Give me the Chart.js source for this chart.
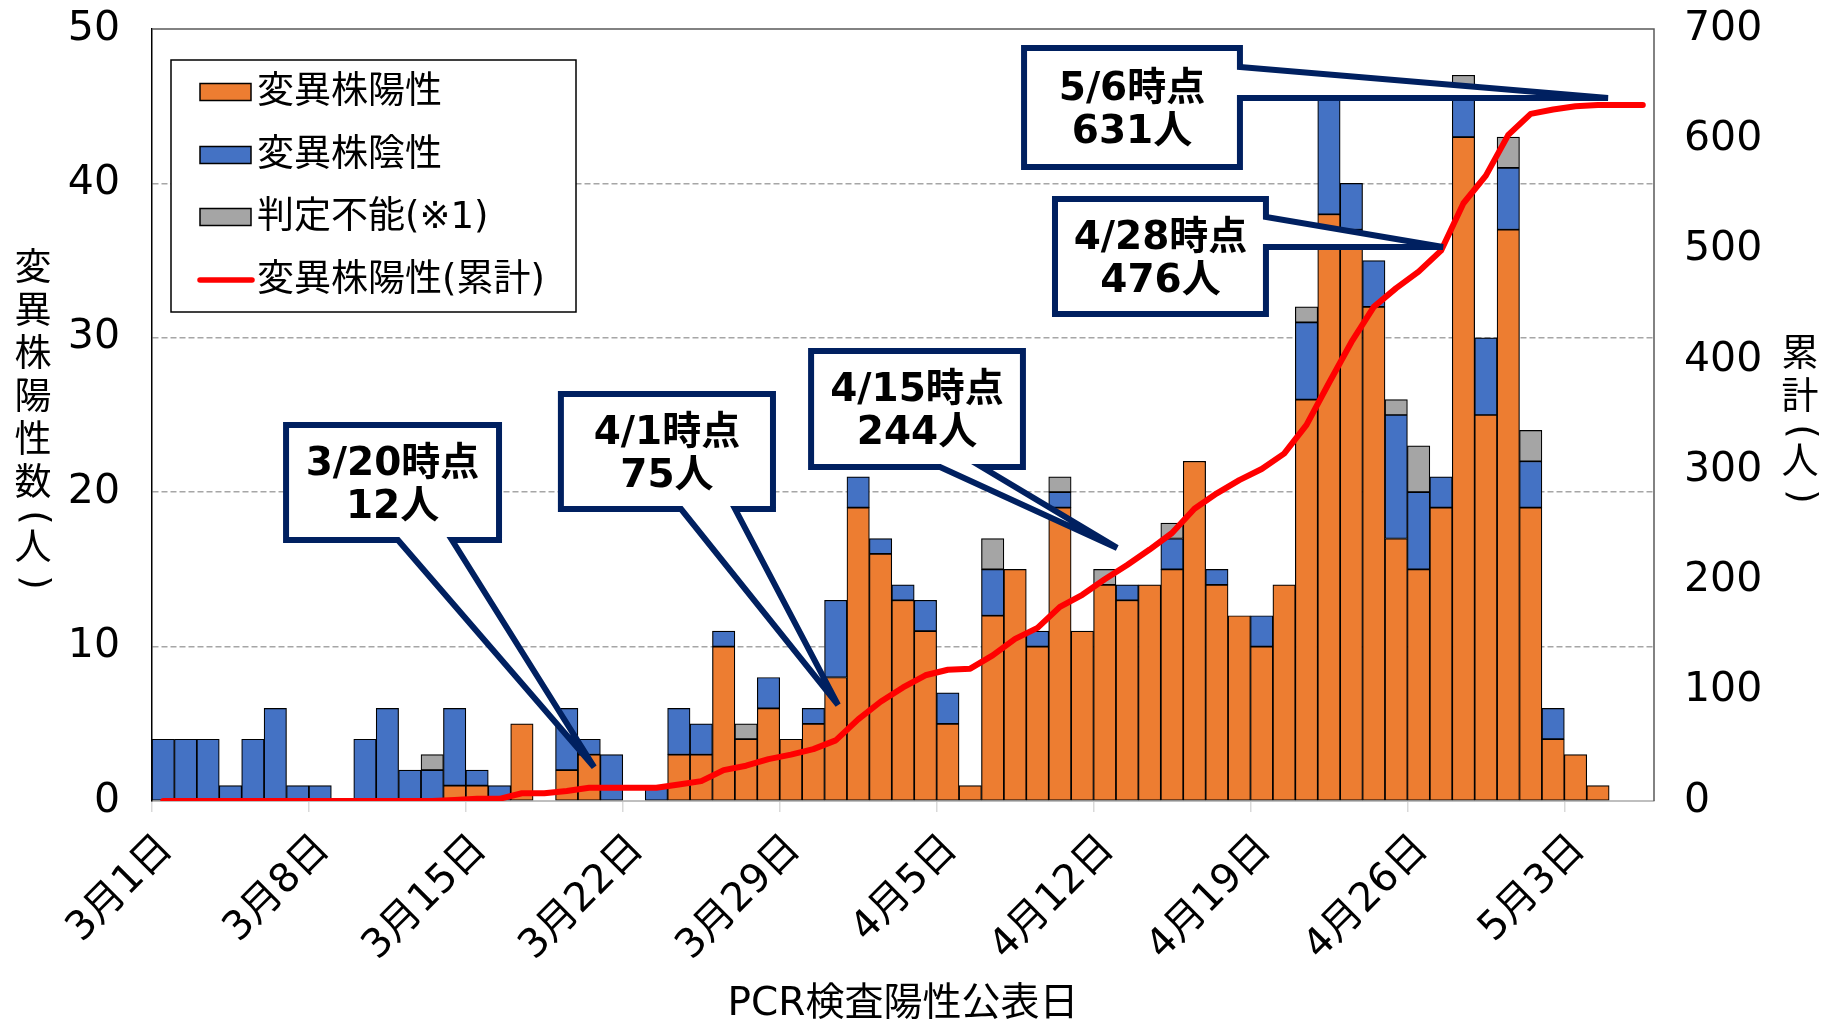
<!DOCTYPE html>
<html><head><meta charset="utf-8">
<script src="https://cdn.jsdelivr.net/npm/chart.js@4.4.1/dist/chart.umd.min.js"></script>
<style>html,body{margin:0;padding:0;background:#fff;}canvas{display:block;}</style>
</head><body>
<canvas id="c" width="1821" height="1020"></canvas>
<script>
// ---- data ----
const dates = ['3月1日','3月2日','3月3日','3月4日','3月5日','3月6日','3月7日','3月8日','3月9日','3月10日',
 '3月11日','3月12日','3月13日','3月14日','3月15日','3月16日','3月17日','3月18日','3月19日','3月20日',
 '3月21日','3月22日','3月23日','3月24日','3月25日','3月26日','3月27日','3月28日','3月29日','3月30日','3月31日',
 '4月1日','4月2日','4月3日','4月4日','4月5日','4月6日','4月7日','4月8日','4月9日','4月10日',
 '4月11日','4月12日','4月13日','4月14日','4月15日','4月16日','4月17日','4月18日','4月19日','4月20日',
 '4月21日','4月22日','4月23日','4月24日','4月25日','4月26日','4月27日','4月28日','4月29日','4月30日',
 '5月1日','5月2日','5月3日','5月4日','5月5日','5月6日'];
const variantPositive = [0,0,0,0,0,0,0,0,0,0, 0,0,0,1,1,0,5,0,2,3, 0,0,0,3,3,10,4,6,4,5,8,
 19,16,13,11,5,1,12,15,10,19, 11,14,13,14,15,22,14,12,10,14, 26,38,37,32,17,15,19,43,25,37,
 19,4,3,1,0,0];
const variantNegative = [4,4,4,1,4,6,1,1,0,4, 6,2,2,5,1,1,0,0,4,1, 3,0,1,3,2,1,0,2,0,1,5,
 2,1,1,2,2,0,3,0,1,1, 0,0,1,0,2,0,1,0,2,0, 5,8,3,3,8,5,2,3,5,4,
 3,2,0,0,0,0];
const undetermined = [0,0,0,0,0,0,0,0,0,0, 0,0,1,0,0,0,0,0,0,0, 0,0,0,0,0,0,1,0,0,0,0,
 0,0,0,0,0,0,2,0,0,1, 0,1,0,0,1,0,0,0,0,0, 1,0,0,0,1,3,0,1,0,2,
 2,0,0,0,0,0];
const cumulativePositive = [0,0,0,0,0,0,0,0,0,0, 0,0,0,1,2,2,7,7,9,12, 12,12,12,15,18,28,32,38,42,47,55,
 74,90,103,114,119,120,132,147,157,176, 187,201,214,228,243,265,279,291,301,315, 341,379,416,448,465,480,499,542,567,604,
 623,627,630,631,631,631];
const leftTicks = {min:0, max:50, step:10};
const rightTicks = {min:0, max:700, step:100};
const weekStep = 7;

const seriesNames = ['変異株陽性','変異株陰性','判定不能(※1)','変異株陽性(累計)'];
const xTitle = 'PCR検査陽性公表日';
const yTitleChars = ['変','異','株','陽','性','数','(','人',')'];
const y2TitleChars = ['累','計','(','人',')'];

// callouts: box [x0,x1,yTop,yBottom] and tip in data units (x = day index, y = left axis)
const callouts = [
  {lines:['3/20時点','12人'],  box:[5.98,15.48,24.35,16.90], side:'bottom', base:[10.97,13.38], tip:[19.72,2.20]},
  {lines:['4/1時点','75人'],   box:[18.24,27.70,26.36,18.91], side:'bottom', base:[23.60,26.01], tip:[30.60,6.22]},
  {lines:['4/15時点','244人'], box:[29.40,38.85,29.15,21.63], side:'bottom', base:[35.15,37.02], tip:[43.05,16.39]},
  {lines:['4/28時点','476人'], box:[40.28,49.69,38.99,31.54], side:'right', base:[37.82,35.88], tip:[57.59,35.88]},
  {lines:['5/6時点','631人'],  box:[38.90,48.53,48.77,41.06], side:'right', base:[47.54,45.53], tip:[64.95,45.53]}
];

const FONT = "'DejaVu Sans','Noto Sans CJK JP',sans-serif";
const COLORS = {pos:'#ED7D31', neg:'#4472C4', und:'#A5A5A5', cum:'#FF0000', navy:'#002060'};

const toXY = arr => arr.map((v,i) => ({x:i+0.5, y: v === 0 ? null : v}));
const toXYLine = arr => arr.map((v,i) => ({x:i+0.5, y:v}));

function drawVertical(ctx, chars, cx, cy, adv, parenAdv) {
  const total = chars.reduce((s,c)=> s + ((c==='('||c===')') ? parenAdv : adv), 0);
  let y = cy - total/2;
  for (const c of chars) {
    const a = (c==='('||c===')') ? parenAdv : adv;
    const mid = y + a/2;
    if (c==='('||c===')') {
      ctx.save(); ctx.translate(cx, mid); ctx.rotate(Math.PI/2); ctx.fillText(c, 0, 0); ctx.restore();
    } else {
      ctx.fillText(c, cx, mid);
    }
    y += a;
  }
}

const extras = {
  id:'extras',
  beforeDatasetsDraw(chart) {
    const {ctx, chartArea:ca} = chart;
    ctx.save();
    ctx.strokeStyle = '#595959'; ctx.lineWidth = 1.5;
    ctx.beginPath(); ctx.moveTo(ca.left, ca.top); ctx.lineTo(ca.right, ca.top); ctx.lineTo(ca.right, ca.bottom); ctx.stroke();
    ctx.restore();
  },
  afterDatasetsDraw(chart) {
    const {ctx, chartArea:ca, scales} = chart;
    const xs = scales.x, ys = scales.y;
    ctx.save();
    // legend
    const lx = ca.left + 19, ly = ca.top + 31, lw = 405, lh = 252;
    ctx.fillStyle = '#fff'; ctx.fillRect(lx, ly, lw, lh);
    ctx.strokeStyle = '#000'; ctx.lineWidth = 1.5; ctx.strokeRect(lx, ly, lw, lh);
    const rows = [32, 95, 157, 220];
    const cols = [COLORS.pos, COLORS.neg, COLORS.und];
    ctx.font = '37px ' + FONT; ctx.textBaseline = 'middle'; ctx.textAlign = 'left';
    rows.forEach((ry, i) => {
      const cy = ly + ry;
      if (i < 3) {
        ctx.fillStyle = cols[i]; ctx.fillRect(lx + 29, cy - 8.5, 51, 17);
        ctx.strokeStyle = '#000'; ctx.lineWidth = 1.5; ctx.strokeRect(lx + 29, cy - 8.5, 51, 17);
      } else {
        ctx.strokeStyle = COLORS.cum; ctx.lineWidth = 5.5; ctx.lineCap = 'round';
        ctx.beginPath(); ctx.moveTo(lx + 29, cy); ctx.lineTo(lx + 81, cy); ctx.stroke();
        ctx.lineCap = 'butt';
      }
      ctx.fillStyle = '#000'; ctx.fillText(seriesNames[i], lx + 86, cy + 1);
    });
    // callouts
    for (const c of callouts) {
      const X = v => xs.getPixelForValue(v), Y = v => ys.getPixelForValue(v);
      const x0 = X(c.box[0]), x1 = X(c.box[1]), y0 = Y(c.box[2]), y1 = Y(c.box[3]);
      const tx = X(c.tip[0]), ty = Y(c.tip[1]);
      ctx.beginPath();
      ctx.moveTo(x0, y0); ctx.lineTo(x1, y0);
      if (c.side === 'right') {
        ctx.lineTo(x1, Y(c.base[0])); ctx.lineTo(tx, ty); ctx.lineTo(x1, Y(c.base[1]));
        ctx.lineTo(x1, y1); ctx.lineTo(x0, y1);
      } else {
        ctx.lineTo(x1, y1); ctx.lineTo(X(c.base[1]), y1); ctx.lineTo(tx, ty); ctx.lineTo(X(c.base[0]), y1);
        ctx.lineTo(x0, y1);
      }
      ctx.closePath();
      ctx.fillStyle = '#fff'; ctx.fill();
      ctx.strokeStyle = COLORS.navy; ctx.lineWidth = 6; ctx.lineJoin = 'miter'; ctx.stroke();
      ctx.fillStyle = '#000'; ctx.font = 'bold 39px ' + FONT; ctx.textAlign = 'center'; ctx.textBaseline = 'middle';
      const cx = (x0 + x1)/2, cy = (y0 + y1)/2;
      ctx.fillText(c.lines[0], cx, cy - 18);
      ctx.fillText(c.lines[1], cx, cy + 25);
    }
    // axis titles
    ctx.fillStyle = '#000'; ctx.textAlign = 'center'; ctx.textBaseline = 'middle';
    ctx.font = '39px ' + FONT;
    ctx.fillText(xTitle, (ca.left + ca.right)/2, 1005);
    ctx.font = '37px ' + FONT;
    drawVertical(ctx, yTitleChars, 33, (ca.top + ca.bottom)/2 + 6, 43, 22);
    drawVertical(ctx, y2TitleChars, 1800, (ca.top + ca.bottom)/2 + 6, 43, 22);
    ctx.restore();
  }
};

const barCommon = {borderColor:'#000', borderWidth:1.2, borderSkipped:false, stack:'day', order:1,
  barPercentage:1, categoryPercentage:1, yAxisID:'y', xAxisID:'x'};

new Chart(document.getElementById('c'), {
  type:'bar',
  data:{datasets:[
    {type:'line', label:seriesNames[3], data:toXYLine(cumulativePositive), yAxisID:'y2', xAxisID:'x',
     borderColor:COLORS.cum, borderWidth:6, pointRadius:0, tension:0, order:0,
     borderJoinStyle:'round', borderCapStyle:'round', fill:false},
    Object.assign({label:seriesNames[0], data:toXY(variantPositive), backgroundColor:COLORS.pos}, barCommon),
    Object.assign({label:seriesNames[1], data:toXY(variantNegative), backgroundColor:COLORS.neg}, barCommon),
    Object.assign({label:seriesNames[2], data:toXY(undetermined), backgroundColor:COLORS.und}, barCommon)
  ]},
  options:{
    responsive:false, animation:false, devicePixelRatio:1,
    layout:{padding:{top:29, left:0, right:0, bottom:0}},
    plugins:{legend:{display:false}, tooltip:{enabled:false}},
    scales:{
      x:{type:'linear', min:0, max:dates.length, offset:false,
         afterFit(s){ s.height = 219; s.paddingLeft = 0; s.paddingRight = 0; },
         grid:{offset:false, drawOnChartArea:false, drawTicks:true, tickLength:11, color:'#d9d9d9', lineWidth:1.5},
         border:{color:'#bfbfbf', width:2},
         ticks:{stepSize:weekStep, includeBounds:false, autoSkip:false, minRotation:45, maxRotation:45,
                labelOffset:15, padding:14, color:'#000', font:{family:FONT, size:40},
                callback:(v)=> dates[v]}},
      y:{position:'left', stacked:true, min:leftTicks.min, max:leftTicks.max,
         afterFit(s){ s.width = 152; s.paddingTop = 0; s.paddingBottom = 0; },
         ticks:{stepSize:leftTicks.step, padding:32, color:'#000', font:{family:FONT, size:41}},
         grid:{drawTicks:false, lineWidth:1.5,
               color:(c)=> (c.tick && (c.tick.value === leftTicks.min || c.tick.value === leftTicks.max)) ? 'rgba(0,0,0,0)' : '#a6a6a6'},
         border:{color:'#000', width:1.5, dash:[6,3]}},
      y2:{position:'right', min:rightTicks.min, max:rightTicks.max,
         afterFit(s){ s.width = 167; s.paddingTop = 0; s.paddingBottom = 0; },
         ticks:{stepSize:rightTicks.step, padding:30, color:'#000', font:{family:FONT, size:41}},
         grid:{display:false, drawTicks:false}, border:{display:false}}
    }
  },
  plugins:[extras]
});
</script>
</body></html>
